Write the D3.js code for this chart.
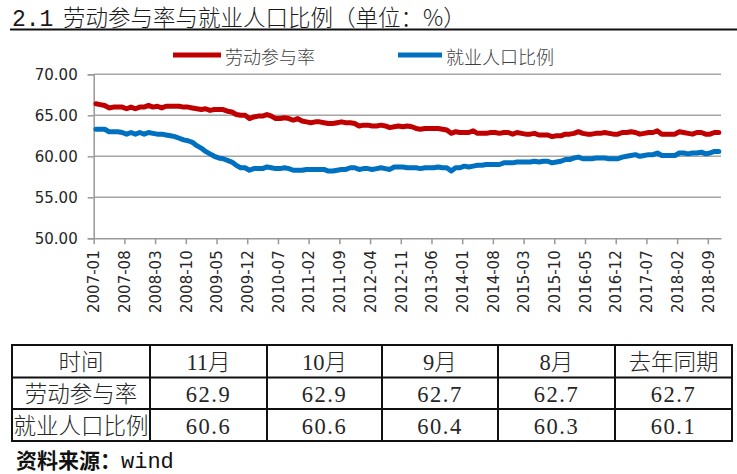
<!DOCTYPE html>
<html>
<head>
<meta charset="utf-8">
<script src="https://cdn.jsdelivr.net/npm/d3@7/dist/d3.min.js"></script>
<style>
  html, body { margin: 0; padding: 0; background: #fff; }
  svg { display: block; }
</style>
</head>
<body>
<svg id="chart" width="737" height="474"></svg>
<script>
// ---------------- DATA ----------------
const titleText = "劳动参与率与就业人口比例（单位：%）";
const seriesNames = ["劳动参与率", "就业人口比例"];
const tickLabels = ["2007-01","2007-08","2008-03","2008-10","2009-05","2009-12","2010-07",
  "2011-02","2011-09","2012-04","2012-11","2013-06","2014-01","2014-08","2015-03",
  "2015-10","2016-05","2016-12","2017-07","2018-02","2018-09"];
const yTicks = [50, 55, 60, 65, 70];

// monthly 2007-01 .. 2018-11
const lfpr = [
  66.4,66.3,66.2,65.9,66.0,66.0,66.0,65.8,66.0,65.8,66.0,66.0,
  66.2,66.0,66.1,65.9,66.1,66.1,66.1,66.1,66.0,66.0,65.9,65.8,
  65.7,65.8,65.6,65.7,65.7,65.7,65.5,65.4,65.1,65.0,65.0,64.6,
  64.8,64.9,64.9,65.1,64.9,64.6,64.6,64.7,64.6,64.4,64.6,64.3,
  64.2,64.1,64.2,64.2,64.1,64.0,64.0,64.1,64.2,64.1,64.1,64.0,
  63.7,63.8,63.8,63.7,63.7,63.8,63.7,63.5,63.6,63.7,63.6,63.7,
  63.6,63.4,63.3,63.4,63.4,63.4,63.4,63.3,63.2,62.8,63.0,62.9,
  62.9,62.9,63.1,62.8,62.8,62.8,62.9,62.9,62.8,62.9,62.9,62.7,
  62.9,62.8,62.7,62.7,62.8,62.6,62.6,62.6,62.4,62.5,62.5,62.7,
  62.7,62.8,63.0,62.8,62.7,62.7,62.8,62.8,62.9,62.8,62.7,62.7,
  62.9,62.9,63.0,62.9,62.7,62.8,62.9,62.9,63.1,62.7,62.7,62.7,
  62.7,63.0,62.9,62.8,62.7,62.9,62.9,62.7,62.7,62.9,62.9
];
const emratio = [
  63.3,63.3,63.3,63.0,63.0,63.0,62.9,62.7,62.9,62.7,62.9,62.7,
  62.9,62.8,62.7,62.7,62.6,62.5,62.4,62.2,62.0,61.9,61.7,61.3,
  61.0,60.6,60.3,60.0,59.8,59.7,59.5,59.3,58.9,58.6,58.6,58.3,
  58.5,58.5,58.5,58.7,58.6,58.5,58.5,58.6,58.5,58.3,58.3,58.3,
  58.4,58.4,58.4,58.4,58.4,58.2,58.2,58.3,58.4,58.4,58.6,58.6,
  58.4,58.5,58.5,58.4,58.5,58.6,58.5,58.4,58.7,58.7,58.7,58.6,
  58.6,58.6,58.5,58.6,58.6,58.6,58.7,58.6,58.6,58.2,58.6,58.6,
  58.8,58.7,58.8,58.9,58.9,59.0,59.0,59.0,59.0,59.2,59.2,59.2,
  59.3,59.3,59.3,59.3,59.4,59.3,59.4,59.4,59.2,59.3,59.4,59.6,
  59.6,59.8,59.9,59.7,59.7,59.7,59.8,59.8,59.8,59.7,59.7,59.7,
  59.9,60.0,60.1,60.2,60.0,60.1,60.2,60.2,60.4,60.1,60.1,60.1,
  60.1,60.4,60.4,60.3,60.4,60.4,60.5,60.3,60.4,60.6,60.6
];

// table
const tableHeader = ["时间", "11月", "10月", "9月", "8月", "去年同期"];
const tableLfpr = [62.9, 62.9, 62.7, 62.7, 62.7];
const tableEm = [60.6, 60.6, 60.4, 60.3, 60.1];

const colors = ["#C00000", "#0070C0"];

// ---------------- DRAW ----------------
const svg = d3.select("#chart");
svg.append("rect").attr("width", 737).attr("height", 474).attr("fill", "#fff");

// title
svg.append("text").attr("x", 12).attr("y", 26)
  .attr("font-family", "'Liberation Mono', monospace").attr("font-size", 23)
  .attr("fill", "#1a1a1a").text("2.1");
svg.append("text").attr("x", 63).attr("y", 26)
  .attr("font-family", "'Noto Sans CJK SC'").attr("font-size", 22.5).attr("font-weight", 300)
  .attr("fill", "#1a1a1a").text(titleText);
svg.append("line").attr("x1", 10).attr("x2", 737).attr("y1", 29.5).attr("y2", 29.5)
  .attr("stroke", "#111").attr("stroke-width", 2);

// scales
const n = lfpr.length;
const x = d3.scaleLinear().domain([0, n]).range([93.7, 721]);
const y = d3.scaleLinear().domain([50, 70]).range([238.3, 74.3]);

// gridlines
svg.append("g").selectAll("line").data(yTicks.filter(d => d > 50)).join("line")
  .attr("x1", x(0)).attr("x2", x(n)).attr("y1", d => y(d)).attr("y2", d => y(d))
  .attr("stroke", "#a6a6a6").attr("stroke-width", 1.5);

// y axis
const yAxis = svg.append("g").attr("transform", `translate(${x(0)},0)`)
  .call(d3.axisLeft(y).tickValues(yTicks).tickFormat(d3.format(".2f")).tickSize(6).tickPadding(10));
yAxis.select(".domain").attr("stroke", "#999").attr("stroke-width", 1.5);
yAxis.selectAll(".tick line").attr("stroke", "#999").attr("stroke-width", 1.5);
yAxis.selectAll("text").attr("font-family", "'DejaVu Sans'").attr("font-size", 15).attr("fill", "#262626");

// x axis
const tickIdx = tickLabels.map((d, i) => i * 7);
const xAxis = svg.append("g").attr("transform", `translate(0,${y(50)})`)
  .call(d3.axisBottom(x).tickValues(tickIdx).tickFormat((d, i) => tickLabels[i]).tickSize(6).tickSizeOuter(0));
xAxis.select(".domain").attr("stroke", "#999").attr("stroke-width", 1.5);
xAxis.selectAll(".tick line").attr("stroke", "#999").attr("stroke-width", 1.5);
xAxis.selectAll("text")
  .attr("font-family", "'DejaVu Sans'").attr("font-size", 15).attr("fill", "#262626")
  .attr("transform", "rotate(-90)")
  .attr("text-anchor", "end")
  .attr("x", -12).attr("y", 0).attr("dy", "0.35em");

// lines
const line = d3.line().x((d, i) => x(i + 0.5)).y(d => y(d)).curve(d3.curveLinear);
[lfpr, emratio].forEach((s, k) => {
  svg.append("path").datum(s).attr("d", line)
    .attr("fill", "none").attr("stroke", colors[k]).attr("stroke-width", 5)
    .attr("stroke-linejoin", "round").attr("stroke-linecap", "round");
});

// legend
const legendPos = [{x1: 173, x2: 221, tx: 225}, {x1: 398, x2: 442, tx: 446}];
seriesNames.forEach((nm, k) => {
  const p = legendPos[k];
  svg.append("line").attr("x1", p.x1).attr("x2", p.x2).attr("y1", 55).attr("y2", 55)
    .attr("stroke", colors[k]).attr("stroke-width", 5);
  svg.append("text").attr("x", p.tx).attr("y", 56).attr("dominant-baseline", "central")
    .attr("font-family", "'Noto Sans CJK SC'").attr("font-size", 18).attr("font-weight", 300)
    .attr("fill", "#404040").text(nm);
});

// table
const colX = [12, 150, 267, 382, 498, 615, 732];
const rowY = [345, 377.5, 409, 441];
const tableRows = [
  tableHeader,
  [seriesNames[0], ...tableLfpr.map(d => d.toFixed(1))],
  [seriesNames[1], ...tableEm.map(d => d.toFixed(1))]
];
const tg = svg.append("g");
tableRows.forEach((row, r) => {
  row.forEach((cell, c) => {
    tg.append("text")
      .attr("x", (colX[c] + colX[c + 1]) / 2)
      .attr("y", (rowY[r] + rowY[r + 1]) / 2 + 1)
      .attr("text-anchor", "middle").attr("dominant-baseline", "central")
      .attr("font-family", "'Liberation Serif', 'Noto Sans CJK SC'")
      .attr("font-size", 22.5).attr("font-weight", 300)
      .attr("letter-spacing", /^[0-9.]+$/.test(cell) ? 1.5 : 0)
      .attr("fill", "#262626").text(cell);
  });
});
colX.forEach(cx => tg.append("line").attr("x1", cx).attr("x2", cx).attr("y1", rowY[0]).attr("y2", rowY[3])
  .attr("stroke", "#111").attr("stroke-width", 2));
rowY.forEach(ry => tg.append("line").attr("x1", colX[0] - 1).attr("x2", colX[6] + 1).attr("y1", ry).attr("y2", ry)
  .attr("stroke", "#111").attr("stroke-width", 2));

// source
const src = svg.append("text").attr("x", 16).attr("y", 468).attr("fill", "#111").attr("font-size", 21);
src.append("tspan").attr("font-family", "'Noto Sans CJK SC'").attr("font-weight", 700).text("资料来源：");
src.append("tspan").attr("font-family", "'Liberation Mono', monospace").attr("font-size", 22).text("wind");
</script>
</body>
</html>
